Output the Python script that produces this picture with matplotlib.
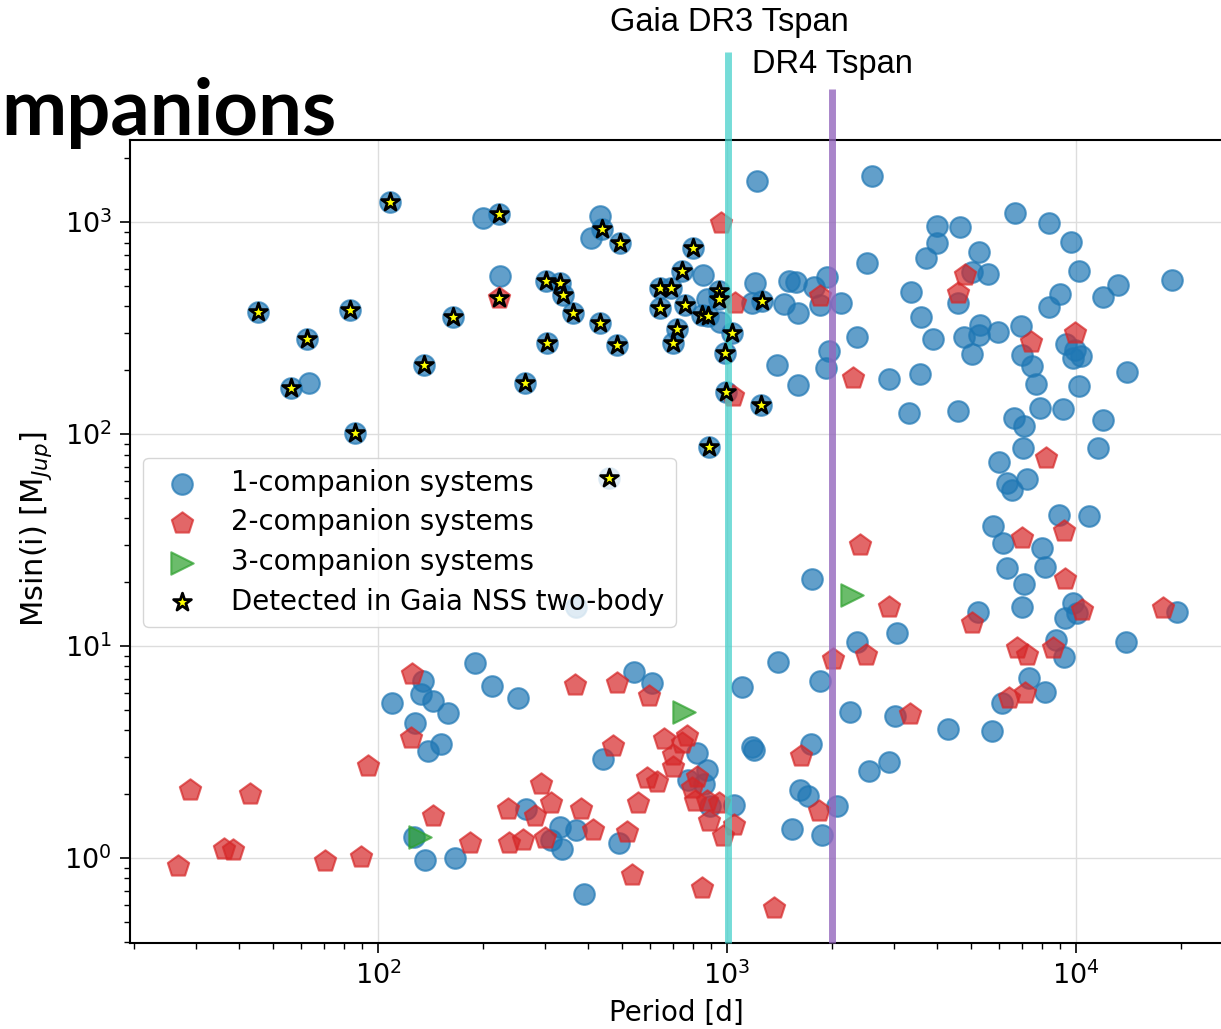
import matplotlib
matplotlib.use("Agg")
import matplotlib.pyplot as plt
import numpy as np

# 1-companion systems (period [d], Msin(i) [Mjup]) not flagged in Gaia NSS
p1 = [200, 433, 408, 224, 63.4, 853, 875, 955, 1219, 2600, 1199, 1510, 1578, 1774, 1928,
      1452, 1596, 1845, 2118, 1180, 2523, 2350, 1959, 1918, 1390, 1596, 2911, 3573, 3319,
      4603, 3990, 4667, 4010, 3707, 5286, 6670, 8392, 9700, 10210, 5598, 5036, 4603, 3365,
      3591, 3882, 4762, 5311, 5286, 5985, 6953, 5023, 6993, 7467, 7656, 8392, 9016, 11940,
      13190, 18790, 9333, 9954, 10350, 9820, 10210, 13960, 7866, 9160, 6637, 7081, 11940,
      7047, 11590, 6026, 7227, 6328, 6541, 8954, 10910, 5765, 6196, 7982, 6353, 8147, 7096,
      7000, 9820, 9290, 10050, 5248, 13870, 19460, 8770, 9244, 7345, 8147, 6124, 5754, 4306,
      3020, 2249, 2910, 2553, 2353, 3062, 1750, 1403, 1853, 1104, 1180, 1195, 1742, 1618,
      1710, 2065, 1045, 1537, 1875, 818, 879, 771, 857, 893, 540, 610, 441, 332, 370, 491,
      336, 388, 313, 189, 134.5, 110, 133, 144, 159, 212, 252, 128, 152, 139, 266, 127, 136,
      166, 370]
m1 = [1045, 1067, 841, 556, 174, 562, 432, 339, 1560, 1648, 514, 528, 523, 495, 552,
      410, 371, 405, 414, 414, 638, 288, 247, 204, 211, 171, 181, 191, 125,
      129, 957, 944, 794, 674, 724, 1099, 993, 807, 589, 569, 583, 414, 469,
      357, 282, 288, 327, 293, 304, 323, 238, 236, 209, 172, 398, 457, 445,
      505, 532, 266, 249, 232, 228, 168, 195, 133, 131, 119, 109, 117,
      85.8, 85.8, 74.0, 61.1, 58.9, 54.5, 41.5, 40.8, 36.9, 30.5, 28.9, 23.3, 23.5, 19.5,
      15.3, 15.9, 13.5, 14.3, 14.4, 10.4, 14.4, 10.7, 8.9, 7.05, 6.08, 5.37, 3.97, 4.06,
      4.69, 4.90, 2.85, 2.58, 10.4, 11.5, 20.8, 8.44, 6.86, 6.43, 3.35, 3.22, 3.45, 2.09,
      1.95, 1.75, 1.78, 1.37, 1.28, 3.14, 2.60, 2.33, 2.23, 1.76, 7.57, 6.66, 2.93, 1.40, 1.35, 1.17,
      1.10, 0.675, 1.22, 8.34, 6.86, 5.41, 5.94, 5.52, 4.82, 6.50, 5.70, 4.34, 3.45, 3.21, 1.71, 1.26, 0.98,
      1.00, 15.3]

# 2-companion systems
p2 = [960, 1052, 1845, 2301, 1038, 4808, 4603, 7430, 9954, 8185, 9250, 6983, 9290, 10380,
      5047, 17780, 8570, 6790, 7244, 7145, 6442, 2404, 2910, 2495, 2018, 3334, 1633, 1832,
      847, 1361, 769, 741, 661, 701, 698, 822, 591, 629, 557, 792, 809, 875, 950, 889, 1047,
      975, 367, 485, 599, 470, 381, 414, 516, 533, 125, 124, 93.3, 29.0, 43.1, 294, 313, 281,
      236, 144, 184, 237, 261, 300, 26.8, 36.1, 38.4, 70.3, 89.1, 222]
m2 = [986, 416, 448, 183, 151, 562, 461, 272, 301, 76.7, 35.0, 32.4, 20.7, 14.8,
      12.8, 15.1, 9.82, 9.75, 9.08, 5.99, 5.67, 29.9, 15.3, 9.08, 8.65, 4.78, 3.03, 1.67,
      0.724, 0.583, 3.76, 3.50, 3.63, 3.06, 2.68, 2.42, 2.38, 2.27, 1.82, 2.13, 1.85, 1.85, 1.81, 1.50, 1.43,
      1.27, 6.55, 6.71, 5.81, 3.37, 1.71, 1.36, 1.32, 0.832, 7.38, 3.67, 2.72, 2.09, 2.01, 2.23, 1.81, 1.57,
      1.70, 1.57, 1.18, 1.18, 1.22, 1.24, 0.916, 1.10, 1.09, 0.962, 1.01, 438]

# 3-companion systems
p3 = [753, 2280, 132]
m3 = [4.89, 17.4, 1.26]

# detected in Gaia NSS two-body solutions (host: number of companions)
p_nss = [45.3, 56.4, 62.6, 83.2, 85.9, 108, 135.5, 164, 222, 222, 264, 303, 305, 332, 339,
         362, 438, 493, 433, 484, 459, 643, 692, 643, 759, 741, 800, 721, 698, 847, 881, 950,
         950, 1031, 987, 991, 1251, 1262, 887]
m_nss = [376, 165, 281, 385, 101, 1243, 211, 357, 1091, 438, 174, 527, 268, 515, 453,
         372, 927, 796, 334, 263, 61.9, 489, 489, 393, 405, 587, 751, 312, 268, 364, 360, 474,
         432, 301, 242, 158, 137, 426, 86.9]
nss_host = [1] * 9 + [2] + [1] * 29

tspan_dr3 = 1005
tspan_dr4 = 2000

fig = plt.figure(figsize=(12.21, 10.29), dpi=100)
ax = fig.add_axes([0.1065, 0.0836, 0.9025, 0.7804])

# NSS hosts that are 1-companion systems also get a circle underneath
p_all1 = p1 + [p for p, h in zip(p_nss, nss_host) if h == 1]
m_all1 = m1 + [m for m, h in zip(m_nss, nss_host) if h == 1]

ax.scatter(p_all1, m_all1, s=220, marker='o', color='tab:blue', alpha=0.7, lw=1.5,
           label='1-companion systems', zorder=3)
ax.scatter(p2, m2, s=260, marker='p', color='tab:red', alpha=0.7, lw=1.5,
           label='2-companion systems', zorder=3)
ax.scatter(p3, m3, s=260, marker='>', color='tab:green', alpha=0.7, lw=1.5,
           label='3-companion systems', zorder=3)
ax.scatter(p_nss, m_nss, s=180, marker='*', facecolor='yellow', edgecolor='black', lw=2,
           label='Detected in Gaia NSS two-body', zorder=6)

ax.set_xscale('log')
ax.set_yscale('log')
ax.set_xlim(19.47, 27990)
ax.set_ylim(0.397, 2438)

ax.vlines(tspan_dr3, 0.397, 6340, color='mediumturquoise', alpha=0.75, lw=5, clip_on=False, zorder=4)
ax.vlines(tspan_dr4, 0.397, 4240, color='tab:purple', alpha=0.8, lw=5, clip_on=False, zorder=4)

ax.grid(True, which='major', color='#dddddd', lw=1)
ax.set_axisbelow(True)
ax.tick_params(which='major', length=7, width=1.2, labelsize=19.5, direction='out', pad=6)
ax.tick_params(which='minor', length=4, width=1)
for s in ax.spines.values():
    s.set_linewidth(1.5)

ax.set_xlabel('Period [d]', fontsize=20)
ax.set_ylabel('Msin(i) [M$_{Jup}$]', fontsize=22)
ax.xaxis.set_label_coords(0.496, -0.07)
ax.yaxis.set_label_coords(-0.069, 0.515)

ax.legend(loc='upper left', bbox_to_anchor=(0.012, 0.604), borderaxespad=0, fontsize=19.8,
          labelspacing=0.42, handletextpad=0.8)

fig.text(729 / 1221, 1 - 22 / 1029, 'Gaia DR3 Tspan', fontsize=23.5, family='Liberation Sans',
         ha='center', va='center')
fig.text(832 / 1221, 1 - 65 / 1029, 'DR4 Tspan', fontsize=23.5, family='Liberation Sans',
         ha='center', va='center')
fig.text(1 / 1221, 1 - 135 / 1029, 'mpanions', fontsize=56, family='Lato',
         weight='bold', ha='left', va='baseline')

fig.savefig('out.png', dpi=100)
